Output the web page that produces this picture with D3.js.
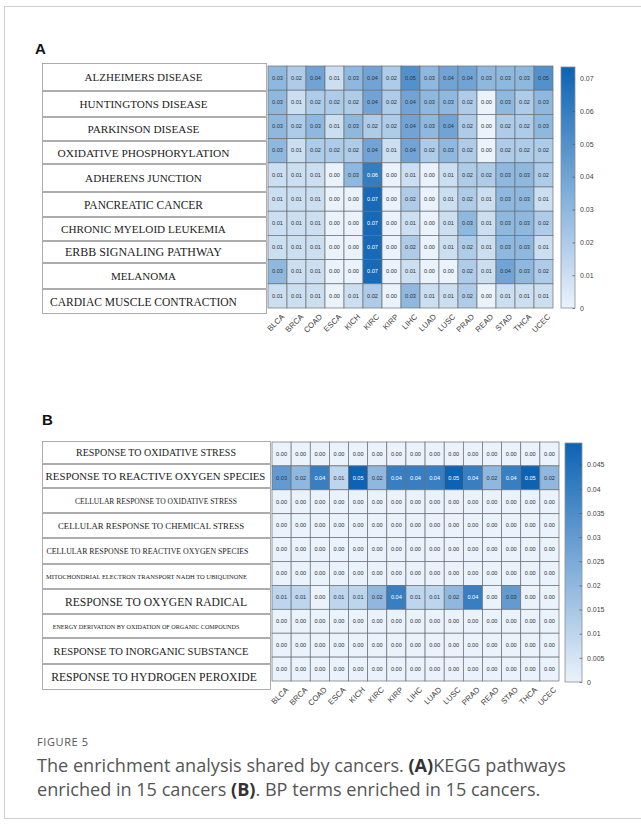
<!DOCTYPE html>
<html>
<head>
<meta charset="utf-8">
<script src="https://cdn.jsdelivr.net/npm/d3@7"></script>
<style>
  html, body { margin: 0; padding: 0; background: #fff; }
  svg { display: block; }
</style>
</head>
<body>
<svg id="fig" width="641" height="825"></svg>
<script>
// Cancer types (columns shared by both heatmaps)
const cancers = ["BLCA","BRCA","COAD","ESCA","KICH","KIRC","KIRP","LIHC","LUAD","LUSC","PRAD","READ","STAD","THCA","UCEC"];

// Panel A: KEGG pathways
const keggTerms = [
  "ALZHEIMERS DISEASE",
  "HUNTINGTONS DISEASE",
  "PARKINSON DISEASE",
  "OXIDATIVE PHOSPHORYLATION",
  "ADHERENS JUNCTION",
  "PANCREATIC CANCER",
  "CHRONIC MYELOID LEUKEMIA",
  "ERBB  SIGNALING  PATHWAY",
  "MELANOMA",
  "CARDIAC  MUSCLE  CONTRACTION"
];
const keggValues = [
  [0.03,0.02,0.04,0.01,0.03,0.04,0.02,0.05,0.03,0.04,0.04,0.03,0.03,0.03,0.05],
  [0.03,0.01,0.02,0.02,0.02,0.04,0.02,0.04,0.03,0.03,0.02,0.00,0.03,0.02,0.03],
  [0.03,0.02,0.03,0.01,0.03,0.02,0.02,0.04,0.03,0.04,0.02,0.00,0.02,0.02,0.03],
  [0.03,0.01,0.02,0.02,0.02,0.04,0.01,0.04,0.02,0.03,0.02,0.00,0.02,0.02,0.02],
  [0.01,0.01,0.01,0.00,0.03,0.06,0.00,0.01,0.00,0.01,0.02,0.02,0.03,0.03,0.02],
  [0.01,0.01,0.01,0.00,0.00,0.07,0.00,0.02,0.00,0.01,0.02,0.01,0.03,0.03,0.01],
  [0.01,0.01,0.01,0.00,0.00,0.07,0.00,0.01,0.00,0.01,0.03,0.01,0.03,0.03,0.02],
  [0.01,0.01,0.01,0.00,0.00,0.07,0.00,0.02,0.00,0.01,0.02,0.01,0.03,0.03,0.01],
  [0.03,0.01,0.01,0.00,0.00,0.07,0.00,0.01,0.00,0.00,0.02,0.01,0.04,0.03,0.02],
  [0.01,0.01,0.01,0.00,0.01,0.02,0.00,0.03,0.01,0.01,0.02,0.00,0.01,0.01,0.01]
];
const keggColorTicks = [0,0.01,0.02,0.03,0.04,0.05,0.06,0.07];
const keggColorMax = 0.0734;

// Panel B: GO biological process terms
const bpTerms = [
  "RESPONSE TO OXIDATIVE STRESS",
  "RESPONSE TO REACTIVE OXYGEN SPECIES",
  "CELLULAR RESPONSE TO OXIDATIVE STRESS",
  "CELLULAR RESPONSE TO CHEMICAL STRESS",
  "CELLULAR RESPONSE TO REACTIVE OXYGEN SPECIES",
  "MITOCHONDRIAL ELECTRON TRANSPORT NADH TO UBIQUINONE",
  "RESPONSE  TO  OXYGEN  RADICAL",
  "ENERGY DERIVATION BY OXIDATION OF ORGANIC COMPOUNDS",
  "RESPONSE TO INORGANIC SUBSTANCE",
  "RESPONSE  TO  HYDROGEN  PEROXIDE"
];
const zeros = () => cancers.map(() => 0);
const bpValues = [
  zeros(),
  [0.03,0.02,0.04,0.01,0.05,0.02,0.04,0.04,0.04,0.05,0.04,0.02,0.04,0.05,0.02],
  zeros(),
  zeros(),
  zeros(),
  zeros(),
  [0.01,0.01,0.00,0.01,0.01,0.02,0.04,0.01,0.01,0.02,0.04,0.00,0.03,0.00,0.00],
  zeros(),
  zeros(),
  zeros()
];
const bpColorTicks = [0,0.005,0.01,0.015,0.02,0.025,0.03,0.035,0.04,0.045];
const bpColorMax = 0.0495;

// ---- layout ----
// Each term label is sized so that its natural width fills w pixels.
const panels = [
  {
    letter: "A", letterX: 35, letterY: 54,
    terms: keggTerms, values: keggValues, ticks: keggColorTicks, max: keggColorMax,
    grid: {x0: 268, x1: 553, y0: 66, y1: 308},
    bar: {x: 561, w: 14, y0: 67, y1: 308},
    boxes: {x0: 42, x1: 266, edges: [63, 91, 117, 141, 164, 192, 217, 241, 263, 289, 314]},
    labelCx: 143.5,
    labelStyle: [
      {w: 118}, {w: 128}, {w: 112}, {w: 172}, {w: 117},
      {w: 119}, {w: 165}, {w: 157}, {w: 65}, {w: 187}
    ]
  },
  {
    letter: "B", letterX: 42, letterY: 425,
    terms: bpTerms, values: bpValues, ticks: bpColorTicks, max: bpColorMax,
    grid: {x0: 272, x1: 559, y0: 442, y1: 681},
    bar: {x: 565, w: 17, y0: 443, y1: 682},
    boxes: {x0: 42, x1: 270, edges: [441, 464, 488, 513, 538, 564, 589, 614, 638, 664, 690]},
    labelCx: 152,
    labelStyle: [
      {w: 160, cx: 156}, {w: 220, cx: 155.5}, {w: 162, cx: 156}, {w: 186, cx: 151},
      {w: 202, cx: 147.5}, {w: 201, cx: 146.5}, {w: 182, cx: 156}, {w: 187, cx: 146},
      {w: 195, cx: 151}, {w: 206, cx: 154}
    ]
  }
];

const svg = d3.select("#fig");

// outer frame of the figure
svg.append("rect")
  .attr("x", 4.5).attr("y", 6.5).attr("width", 700).attr("height", 812)
  .attr("fill", "none").attr("stroke", "#cfcfcf").attr("stroke-width", 1);

const colorLow = "#eaf2fb", colorHigh = "#0c63b4";

panels.forEach(p => {
  const g = svg.append("g");
  const color = d3.scaleLinear().domain([0, p.max]).range([colorLow, colorHigh])
    .interpolate(d3.interpolateRgb).clamp(true);

  // panel letter
  g.append("text")
    .attr("x", p.letterX).attr("y", p.letterY)
    .attr("font-family", "Liberation Sans, Arial, sans-serif")
    .attr("font-weight", "bold").attr("font-size", 15).attr("fill", "#111")
    .text(p.letter);

  // term label boxes
  const e = p.boxes.edges;
  p.terms.forEach((t, i) => {
    const top = e[i], bot = e[i + 1];
    g.append("rect")
      .attr("x", p.boxes.x0 + 0.5).attr("y", top + 0.5)
      .attr("width", p.boxes.x1 - p.boxes.x0).attr("height", bot - top - 1)
      .attr("fill", "#fff").attr("stroke", "#9a9a9a").attr("stroke-width", 0.8);
    const st = p.labelStyle[i];
    const txt = g.append("text")
      .attr("x", st.cx || p.labelCx).attr("y", (top + bot) / 2 + 1.5)
      .attr("text-anchor", "middle").attr("dominant-baseline", "middle")
      .attr("font-family", "Liberation Serif, Times New Roman, serif")
      .attr("font-size", 10).attr("fill", "#1c1c1c")
      .text(t);
    const natural = txt.node().getComputedTextLength();
    txt.attr("font-size", (10 * st.w / natural).toFixed(2));
  });

  // heatmap
  const x = d3.scaleBand().domain(cancers).range([p.grid.x0, p.grid.x1]);
  const y = d3.scaleBand().domain(d3.range(p.terms.length)).range([p.grid.y0, p.grid.y1]);
  const cells = p.values.flatMap((row, i) => row.map((v, j) => ({i, j, v})));

  const cg = g.append("g");
  cg.selectAll("rect").data(cells).join("rect")
    .attr("x", d => x(cancers[d.j])).attr("y", d => y(d.i))
    .attr("width", x.bandwidth()).attr("height", y.bandwidth())
    .attr("fill", d => color(d.v))
    .attr("stroke", "#6b6f75").attr("stroke-width", 0.7);

  cg.selectAll("text").data(cells).join("text")
    .attr("x", d => x(cancers[d.j]) + x.bandwidth() / 2)
    .attr("y", d => y(d.i) + y.bandwidth() / 2 + 0.3)
    .attr("text-anchor", "middle").attr("dominant-baseline", "middle")
    .attr("font-family", "Liberation Sans, Arial, sans-serif")
    .attr("font-size", 5.6)
    .attr("fill", d => d.v / p.max > 0.78 ? "#ffffff" : "#333")
    .text(d => d.v.toFixed(2));

  // column labels
  const ax = g.append("g")
    .attr("transform", `translate(0,${p.grid.y1 + 6})`)
    .call(d3.axisBottom(x).tickSize(0).tickPadding(0));
  ax.select(".domain").remove();
  ax.selectAll("text")
    .attr("font-family", "Liberation Sans, Arial, sans-serif")
    .attr("font-size", 7.8).attr("fill", "#444")
    .attr("text-anchor", "end").attr("dy", "0.6em")
    .attr("transform", "translate(4,0) rotate(-45)");

  // colour bar
  const defs = svg.append("defs");
  const gid = "grad" + p.letter;
  const grad = defs.append("linearGradient").attr("id", gid)
    .attr("x1", 0).attr("y1", 1).attr("x2", 0).attr("y2", 0);
  d3.range(0, 1.0001, 0.1).forEach(f => {
    grad.append("stop").attr("offset", f).attr("stop-color", color(f * p.max));
  });
  g.append("rect")
    .attr("x", p.bar.x).attr("y", p.bar.y0)
    .attr("width", p.bar.w).attr("height", p.bar.y1 - p.bar.y0)
    .attr("fill", `url(#${gid})`).attr("stroke", "#8a8f96").attr("stroke-width", 0.8);

  const cs = d3.scaleLinear().domain([0, p.max]).range([p.bar.y1, p.bar.y0]);
  const cax = g.append("g")
    .attr("transform", `translate(${p.bar.x + p.bar.w},0)`)
    .call(d3.axisRight(cs).tickValues(p.ticks).tickSizeInner(-2.5).tickSizeOuter(0).tickPadding(5)
      .tickFormat(v => v === 0 ? "0" : String(+v.toFixed(3))));
  cax.select(".domain").remove();
  cax.selectAll("line").attr("stroke", "#555").attr("stroke-width", 0.7);
  cax.selectAll("text")
    .attr("font-family", "Liberation Sans, Arial, sans-serif")
    .attr("font-size", 7).attr("fill", "#444");
});

// caption
const cap = svg.append("g").attr("font-family", "Open Sans, Liberation Sans, sans-serif");
cap.append("text")
  .attr("x", 37).attr("y", 746)
  .attr("font-size", 11).attr("letter-spacing", 0.6).attr("fill", "#555")
  .text("FIGURE 5");
const line1 = cap.append("text").attr("x", 37).attr("y", 772)
  .attr("font-size", 18.1).attr("fill", "#555");
line1.append("tspan").text("The enrichment analysis shared by cancers. ");
line1.append("tspan").attr("font-weight", "bold").attr("fill", "#333").text("(A)");
line1.append("tspan").text("KEGG pathways");
const line2 = cap.append("text").attr("x", 37).attr("y", 796)
  .attr("font-size", 18.1).attr("fill", "#555");
line2.append("tspan").text("enriched in 15 cancers ");
line2.append("tspan").attr("font-weight", "bold").attr("fill", "#333").text("(B)");
line2.append("tspan").text(". BP terms enriched in 15 cancers.");
</script>
</body>
</html>
